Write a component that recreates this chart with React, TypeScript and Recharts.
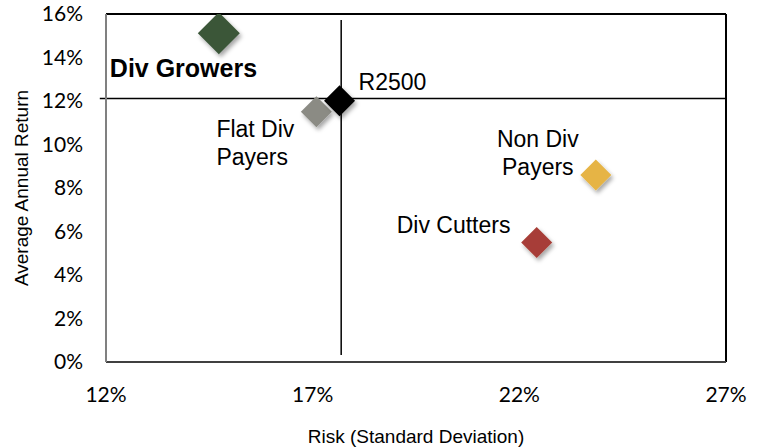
import React from 'react'
import { ScatterChart, Scatter, XAxis, YAxis, ReferenceLine } from 'recharts'

// values
const groupNames = ['Div Growers', 'Flat Div Payers', 'R2500', 'Non Div Payers', 'Div Cutters']
const riskValues = [0.1473, 0.1709, 0.1765, 0.2385, 0.2242]
const returnValues = [0.1511, 0.1151, 0.1201, 0.086, 0.055]
const groupLabels = [['Div Growers'], ['Flat Div', 'Payers'], ['R2500'], ['Non Div', 'Payers'], ['Div Cutters']]
const xTicks = [0.12, 0.17, 0.22, 0.27]
const yTicks = [0, 0.02, 0.04, 0.06, 0.08, 0.1, 0.12, 0.14, 0.16]
const crossRisk = 0.1769
const crossReturn = 0.1212

// look of each marker and where its label sits
const markerStyle: Record<string, any> = {
  'Div Growers': { color: '#3b5639', half: 21, dx: -109, dy: 44, anchor: 'start', size: 25, bold: true },
  'Flat Div Payers': { color: '#8b8b84', half: 15.5, dx: -100, dy: 25, anchor: 'start', size: 23 },
  R2500: { color: '#000000', half: 15.5, dx: 19, dy: -11, anchor: 'start', size: 23 },
  'Non Div Payers': { color: '#e6b445', half: 15.5, dx: -58, dy: -28, anchor: 'middle', size: 23 },
  'Div Cutters': { color: '#a73e37', half: 15.5, dx: -140, dy: -9, anchor: 'start', size: 23 },
}

const pct = (v: number) => `${Math.round(v * 100)}%`

const makeShape = (name: string, lines: string[]) => (props: any) => {
  const { cx, cy } = props
  const s = markerStyle[name]
  const h = s.half
  return (
    <g>
      <path
        d={`M${cx},${cy - h} L${cx + h},${cy} L${cx},${cy + h} L${cx - h},${cy} Z`}
        fill={s.color}
        filter="url(#markerShadow)"
      />
      {lines.map((line, i) => (
        <text
          key={i}
          x={cx + s.dx}
          y={cy + s.dy + i * 28}
          textAnchor={s.anchor}
          fontFamily="'Liberation Sans', Arial, sans-serif"
          fontSize={s.size}
          fontWeight={s.bold ? 700 : 400}
          fill="#000"
        >
          {line}
        </text>
      ))}
    </g>
  )
}

export default function App() {
  const tickStyle = { fontFamily: 'Lato, sans-serif', fontSize: 21, fill: '#000' }
  return (
    <div style={{ position: 'absolute', left: 0, top: 0, width: 759, height: 448, background: '#fff' }}>
      <svg width={0} height={0} style={{ position: 'absolute' }}>
        <defs>
          <filter id="markerShadow" x="-50%" y="-50%" width="200%" height="200%">
            <feDropShadow dx={2} dy={3} stdDeviation={2} floodColor="#000" floodOpacity={0.35} />
          </filter>
        </defs>
      </svg>
      <ScatterChart width={759} height={448} margin={{ top: 14, right: 33, bottom: 0, left: 0 }}>
        <XAxis
          type="number"
          dataKey="x"
          domain={[0.12, 0.27]}
          ticks={xTicks}
          tickFormatter={pct}
          allowDataOverflow
          height={86}
          tickLine={false}
          tickSize={0}
          tickMargin={25}
          axisLine={{ stroke: '#404040', strokeWidth: 2 }}
          tick={tickStyle}
          label={{
            value: 'Risk (Standard Deviation)',
            position: 'insideBottom',
            offset: 5,
            style: { fontFamily: "'Liberation Sans', Arial, sans-serif", fontSize: 19, fill: '#000' },
          }}
        />
        <YAxis
          type="number"
          dataKey="y"
          domain={[0, 0.16]}
          ticks={yTicks}
          tickFormatter={pct}
          allowDataOverflow
          width={106}
          tickLine={false}
          tickSize={0}
          tickMargin={23}
          axisLine={{ stroke: '#808080', strokeWidth: 2 }}
          tick={tickStyle}
          label={{
            value: 'Average Annual Return',
            angle: -90,
            position: 'insideLeft',
            offset: 21,
            textAnchor: 'middle',
            style: { fontFamily: "'Liberation Sans', Arial, sans-serif", fontSize: 19, fill: '#000', textAnchor: 'middle' },
          }}
        />
        <ReferenceLine y={0.16} stroke="#000" strokeWidth={2} />
        <ReferenceLine x={0.27} stroke="#000" strokeWidth={2} />
        <ReferenceLine
          segment={[{ x: 0.1185, y: crossReturn }, { x: 0.27, y: crossReturn }]}
          stroke="#000"
          strokeWidth={1.5}
          ifOverflow="visible"
        />
        <ReferenceLine
          segment={[{ x: crossRisk, y: 0.0032 }, { x: crossRisk, y: 0.1572 }]}
          stroke="#000"
          strokeWidth={1.5}
        />
        {groupNames.map((name, i) => (
          <Scatter
            key={name}
            name={name}
            data={[{ x: riskValues[i], y: returnValues[i] }]}
            shape={makeShape(name, groupLabels[i])}
            isAnimationActive={false}
          />
        ))}
      </ScatterChart>
    </div>
  )
}
